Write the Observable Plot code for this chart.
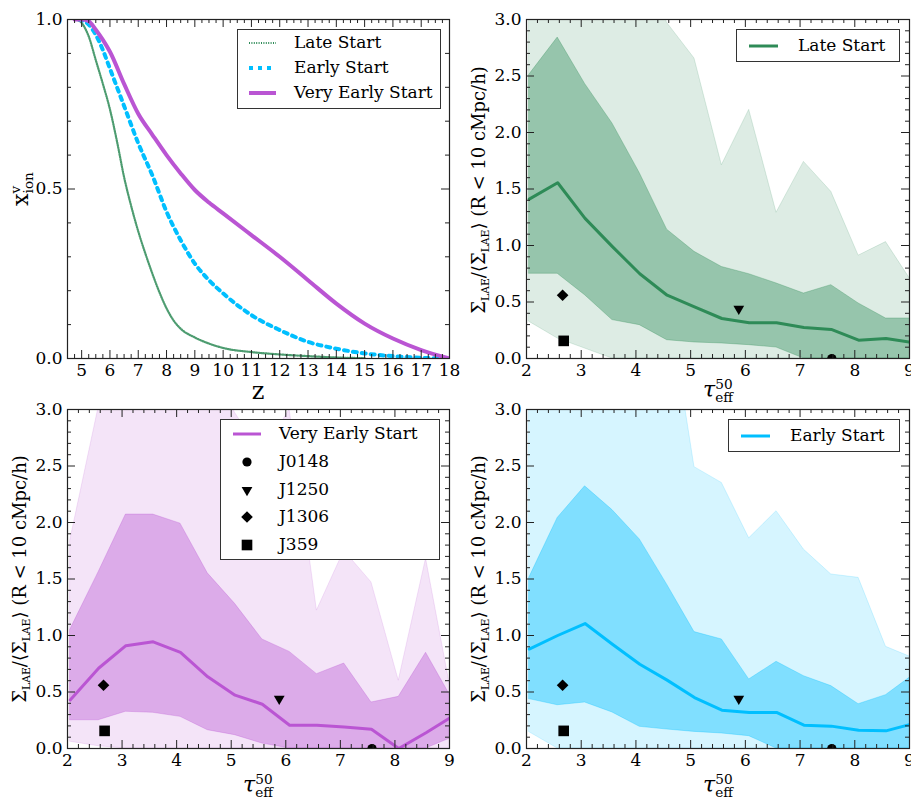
<!DOCTYPE html>
<html>
<head>
<meta charset="utf-8">
<script src="https://cdn.jsdelivr.net/npm/d3@7"></script>
<script src="https://cdn.jsdelivr.net/npm/@observablehq/plot@0.6"></script>
<style>
  html, body { margin: 0; padding: 0; background: white; overflow: hidden; }
  #wrap { position: relative; width: 911px; height: 801px; background: white; overflow: hidden;
          font-family: "DejaVu Serif", serif; color: black; }
  .panel { position: absolute; }
  .panel svg { overflow: visible; }
  .lab { position: absolute; white-space: nowrap; transform: translate(-50%, -50%); z-index: 5; line-height: 1; }
  .rot { transform: translate(-50%, -50%) rotate(-90deg); }
  .stack { display: inline-flex; flex-direction: column; vertical-align: middle; font-size: 0.62em; line-height: 0.95; text-align: left; }
  .legend { position: absolute; background: white; border: 1px solid #333; box-sizing: border-box; z-index: 6; font-size: 17px; }
  .legend .row { position: absolute; left: 0; white-space: nowrap; }
</style>
</head>
<body>
<div id="wrap"></div>
<script>
// ---------------- DATA ----------------
// Top-left: volume-weighted ionized fraction vs redshift
const lateZ  = [4.8, 5.0, 5.25, 5.5, 5.75, 6.0, 6.25, 6.5, 6.75, 7.0, 7.25, 7.5, 7.75, 8.0, 8.25, 8.5, 9.0, 9.5, 10, 11, 12, 13, 14, 15];
const lateX  = [1.0, 0.99, 0.95, 0.88, 0.81, 0.735, 0.64, 0.535, 0.45, 0.375, 0.31, 0.25, 0.195, 0.148, 0.112, 0.088, 0.062, 0.044, 0.031, 0.019, 0.012, 0.007, 0.003, 0.001];
const earlyZ = [4.9, 5.0, 5.25, 5.5, 5.75, 6.0, 6.5, 7.0, 7.5, 8.0, 8.5, 9.0, 9.5, 10, 11, 12, 13, 14, 15, 16, 17, 18];
const earlyX = [1.0, 0.998, 0.985, 0.955, 0.91, 0.855, 0.745, 0.635, 0.54, 0.433, 0.349, 0.28, 0.231, 0.192, 0.128, 0.084, 0.049, 0.029, 0.015, 0.007, 0.002, 0.0];
const veryZ  = [4.75, 5.0, 5.25, 5.5, 5.75, 6.0, 6.5, 7.0, 7.5, 8.0, 8.5, 9.0, 9.5, 10, 11, 12, 13, 14, 15, 16, 17, 18];
const veryX  = [1.0, 1.0, 0.995, 0.97, 0.94, 0.905, 0.81, 0.722, 0.66, 0.60, 0.546, 0.497, 0.46, 0.428, 0.364, 0.30, 0.231, 0.162, 0.103, 0.059, 0.025, 0.0];

// tau_eff^50 bins
const tauBins = [2.05, 2.57, 3.07, 3.57, 4.07, 4.57, 5.07, 5.57, 6.07, 6.57, 7.07, 7.57, 8.07, 8.57, 9.07];

// Late Start
const lateMed   = [1.41, 1.555, 1.24, 0.99, 0.75, 0.56, 0.457, 0.354, 0.316, 0.316, 0.274, 0.257, 0.162, 0.177, 0.14];
const lateInLo  = [0.75, 0.75, 0.56, 0.34, 0.295, 0.162, 0.142, 0.133, 0.118, 0.097, 0.0, 0.0, 0.0, 0.0, 0.0];
const lateInHi  = [2.51, 2.84, 2.43, 2.08, 1.64, 1.14, 0.944, 0.81, 0.746, 0.664, 0.575, 0.649, 0.487, 0.354, 0.354];
const lateOutLo = [0.325, 0.177, 0.088, 0.0, 0.0, 0.0, 0.0, 0.0, 0.0, 0.0, 0.0, 0.0, 0.0, 0.0, 0.0];
const lateOutHi = [3.6, 3.8, 3.8, 3.7, 3.5, 2.97, 2.655, 1.71, 2.2, 1.29, 1.74, 1.475, 0.91, 1.03, 0.66];

// Very Early Start
const veryMed   = [0.43, 0.71, 0.91, 0.944, 0.85, 0.634, 0.472, 0.392, 0.206, 0.206, 0.19, 0.17, 0.0, 0.14, 0.29];
const veryInLo  = [0.25, 0.25, 0.325, 0.316, 0.28, 0.162, 0.118, 0.044, 0.0, 0.0, 0.0, 0.0, 0.0, 0.0, 0.1];
const veryInHi  = [1.05, 1.56, 2.07, 2.07, 1.99, 1.55, 1.28, 0.965, 0.855, 0.658, 0.752, 0.407, 0.457, 0.847, 0.42];
const veryOutLo = [0.06, 0.02, 0.0, 0.0, 0.0, 0.0, 0.0, 0.0, 0.0, 0.0, 0.0, 0.0, 0.0, 0.0, 0.0];
const veryOutHi = [1.84, 3.02, 3.8, 3.8, 3.6, 3.5, 2.97, 2.6, 3.0, 1.22, 1.75, 1.47, 0.6, 1.68, 0.4];

// Early Start
const earlyMed   = [0.88, 1.0, 1.106, 0.923, 0.746, 0.605, 0.451, 0.339, 0.319, 0.319, 0.206, 0.198, 0.162, 0.156, 0.22];
const earlyInLo  = [0.437, 0.383, 0.407, 0.319, 0.192, 0.168, 0.147, 0.133, 0.109, 0.0, 0.0, 0.0, 0.0, 0.0, 0.0];
const earlyInHi  = [1.51, 2.04, 2.32, 2.11, 1.85, 1.45, 1.03, 0.965, 0.611, 0.767, 0.64, 0.552, 0.392, 0.472, 0.65];
const earlyOutLo = [0.145, 0.0, 0.0, 0.0, 0.0, 0.0, 0.0, 0.0, 0.0, 0.0, 0.0, 0.0, 0.0, 0.0, 0.0];
const earlyOutHi = [3.8, 3.9, 4.0, 4.0, 4.0, 4.04, 2.49, 2.35, 1.86, 2.10, 1.76, 1.54, 1.51, 0.9, 0.8];

// Observed quasars
const qsoNames = ["J0148", "J1250", "J1306", "J359"];
const qsoTau   = [7.58, 5.88, 2.66, 2.68];
const qsoSigma = [0.0, 0.44, 0.56, 0.156];

// Tick labels
const zTicks    = [5, 6, 7, 8, 9, 10, 11, 12, 13, 14, 15, 16, 17, 18];
const xionTicks = [0.0, 0.5, 1.0];
const tauTicks  = [2, 3, 4, 5, 6, 7, 8, 9];
const sigTicks  = [0.0, 0.5, 1.0, 1.5, 2.0, 2.5, 3.0];

// ---------------- STYLE ----------------
const GREEN = "#2E8B57", CYAN = "#00BFFF", PURPLE = "#BA55D3";
const LATE_DASH = "1,1.4";
const FONT = {fontFamily: "DejaVu Serif", fontSize: "17px", background: "transparent", overflow: "visible", color: "black"};

// custom symbols
const triDown = {draw(ctx, size) { const y = Math.sqrt(size / (Math.sqrt(3) * 3)); ctx.moveTo(0, y * 2); ctx.lineTo(-Math.sqrt(3) * y, -y); ctx.lineTo(Math.sqrt(3) * y, -y); ctx.closePath(); }};
const diamond = {draw(ctx, size) { const r = Math.sqrt(size) * 0.7; ctx.moveTo(0, -r); ctx.lineTo(r, 0); ctx.lineTo(0, r); ctx.lineTo(-r, 0); ctx.closePath(); }};
const qsoSymbols = ["circle", triDown, diamond, "square"];
const qsoR = [4.6, 4, 4.7, 6];
const qsoSymbolsD3 = [d3.symbolCircle, triDown, diamond, d3.symbolSquare];

function frameTicks(xMaj, xMin, yMaj, yMin, iw, ih) {
  const o = {stroke: "#222", strokeWidth: 1};
  return [
    Plot.tickX(xMaj, {x: d => d, insetTop: ih - 8, ...o}),
    Plot.tickX(xMaj, {x: d => d, insetBottom: ih - 8, ...o}),
    Plot.tickX(xMin, {x: d => d, insetTop: ih - 4, ...o}),
    Plot.tickX(xMin, {x: d => d, insetBottom: ih - 4, ...o}),
    Plot.tickY(yMaj, {y: d => d, insetRight: iw - 8, ...o}),
    Plot.tickY(yMaj, {y: d => d, insetLeft: iw - 8, ...o}),
    Plot.tickY(yMin, {y: d => d, insetRight: iw - 4, ...o}),
    Plot.tickY(yMin, {y: d => d, insetLeft: iw - 4, ...o}),
    Plot.frame({stroke: "#222", strokeWidth: 1.2})
  ];
}

const wrap = document.getElementById("wrap");
function place(el, left, top) {
  const d = document.createElement("div");
  d.className = "panel"; d.style.left = left + "px"; d.style.top = top + "px";
  d.appendChild(el); wrap.appendChild(d);
}

// ---------------- TOP LEFT ----------------
{
  const W = 455, H = 390, mL = 67, mR = 6, mT = 19, mB = 32;
  const zMin = d3.range(18, 73).map(i => i / 4).filter(v => Math.abs(v - Math.round(v)) > 1e-9);
  const yMin = d3.range(0, 11).map(i => i / 10).filter(v => Math.abs(v * 2 - Math.round(v * 2)) > 1e-9);
  const p = Plot.plot({
    width: W, height: H, marginLeft: mL, marginRight: mR, marginTop: mT, marginBottom: mB,
    style: FONT,
    x: {domain: [4.5, 18], ticks: zTicks, tickSize: 0, tickPadding: 5, label: null, tickFormat: d3.format("d")},
    y: {domain: [0, 1], ticks: xionTicks, tickSize: 0, tickPadding: 5, label: null, tickFormat: d3.format(".1f")},
    marks: [
      Plot.lineY(lateX, {x: lateZ, stroke: GREEN, strokeWidth: 2.2, strokeDasharray: LATE_DASH, strokeOpacity: 0.85, curve: "monotone-x", clip: true}),
      Plot.lineY(earlyX, {x: earlyZ, stroke: CYAN, strokeWidth: 4, strokeDasharray: "4,5", curve: "monotone-x", clip: true}),
      Plot.lineY(veryX, {x: veryZ, stroke: PURPLE, strokeWidth: 4, curve: "monotone-x", clip: true}),
      ...frameTicks(zTicks, zMin, xionTicks, yMin, W - mL - mR, H - mT - mB)
    ]
  });
  place(p, 0, 0);
}

// ---------------- TAU PANELS ----------------
function tauPanel(left, top, W, H, mL, mR, mB, med, inLo, inHi, outLo, outHi, color) {
  const mT = 19;
  const xMin = d3.range(10, 46).map(i => i / 5).filter(v => Math.abs(v - Math.round(v)) > 1e-9);
  const yMin = d3.range(0, 31).map(i => i / 10).filter(v => Math.abs(v * 2 - Math.round(v * 2)) > 1e-9);
  const dots = qsoNames.map((n, i) =>
    Plot.dot([qsoTau[i]], {x: d => d, y: [qsoSigma[i]], symbol: qsoSymbols[i], r: qsoR[i], fill: "black", stroke: "none", clip: true}));
  const p = Plot.plot({
    width: W, height: H, marginLeft: mL, marginRight: mR, marginTop: mT, marginBottom: mB,
    style: FONT,
    x: {domain: [2, 9], ticks: tauTicks, tickSize: 0, tickPadding: 5, label: null, tickFormat: d3.format("d")},
    y: {domain: [0, 3], ticks: sigTicks, tickSize: 0, tickPadding: 5, label: null, tickFormat: d3.format(".1f")},
    marks: [
      Plot.areaY(tauBins, {x: tauBins, y1: outLo, y2: outHi, fill: color, fillOpacity: 0.16, stroke: color, strokeOpacity: 0.16, clip: true}),
      Plot.areaY(tauBins, {x: tauBins, y1: inLo, y2: inHi, fill: color, fillOpacity: 0.4, stroke: color, strokeOpacity: 0.3, clip: true}),
      Plot.lineY(med, {x: tauBins, stroke: color, strokeWidth: 3, clip: true}),
      ...dots,
      ...frameTicks(tauTicks, xMin, sigTicks, yMin, W - mL - mR, H - mT - mB)
    ]
  });
  place(p, left, top);
}
tauPanel(455, 0, 456, 390, 71, 2, 32, lateMed, lateInLo, lateInHi, lateOutLo, lateOutHi, GREEN);
tauPanel(0, 390, 455, 411, 67, 6, 53, veryMed, veryInLo, veryInHi, veryOutLo, veryOutHi, PURPLE);
tauPanel(455, 390, 456, 411, 71, 2, 53, earlyMed, earlyInLo, earlyInHi, earlyOutLo, earlyOutHi, CYAN);

// ---------------- AXIS LABELS ----------------
function label(html, cx, cy, size, rotate) {
  const d = document.createElement("div");
  d.className = "lab" + (rotate ? " rot" : "");
  d.style.left = cx + "px"; d.style.top = cy + "px"; d.style.fontSize = size + "px";
  d.innerHTML = html; wrap.appendChild(d);
}
const sigLabel = 'Σ<sub style="font-size:0.6em">LAE</sub>/⟨Σ<sub style="font-size:0.6em">LAE</sub>⟩ (R &lt; 10 cMpc/h)';
const tauLabel = '<i>τ</i><span class="stack"><span>50</span><span>eff</span></span>';
label('x<span class="stack"><span>v</span><span>ion</span></span>', 22, 189, 22, true);
label('z', 258, 391, 24, false);
label(sigLabel, 481, 190, 18, true);
label(sigLabel, 481, 579, 18, true);
label(sigLabel, 22, 579, 18, true);
label(tauLabel, 718, 391, 22, false);
label(tauLabel, 258, 786, 22, false);
label(tauLabel, 718, 786, 22, false);

// ---------------- LEGENDS ----------------
function swatchSVG(item) {
  if (item.type === "line") {
    return `<svg width="30" height="10" style="position:absolute;left:${item.x0}px;top:-5px;overflow:visible">
      <line x1="0" x2="${item.len}" y1="5" y2="5" stroke="${item.color}" stroke-width="${item.width}"
        ${item.dash ? `stroke-dasharray="${item.dash}"` : ""}/></svg>`;
  }
  const path = d3.symbol(item.symbol, Math.PI * item.r * item.r)();
  return `<svg width="20" height="20" style="position:absolute;left:${item.cx - 10}px;top:-10px;overflow:visible">
    <path d="${path}" transform="translate(10,10)" fill="black"/></svg>`;
}
function legend(box, rows, textX) {
  const d = document.createElement("div");
  d.className = "legend";
  Object.assign(d.style, {left: box[0] + "px", top: box[1] + "px", width: box[2] + "px", height: box[3] + "px"});
  rows.forEach(r => {
    const row = document.createElement("div");
    row.className = "row";
    row.style.top = r.cy + "px";
    row.innerHTML = swatchSVG(r) + `<span style="position:absolute;left:${textX}px;top:0;transform:translateY(-52%);line-height:1">${r.text}</span>`;
    d.appendChild(row);
  });
  wrap.appendChild(d);
}
legend([237, 29, 204, 80], [
  {type: "line", text: "Late Start", color: GREEN, width: 2.2, dash: LATE_DASH, x0: 11, len: 27, cy: 13},
  {type: "line", text: "Early Start", color: CYAN, width: 4, dash: "4,5", x0: 11, len: 27, cy: 38},
  {type: "line", text: "Very Early Start", color: PURPLE, width: 4, x0: 11, len: 27, cy: 63}
], 56);
legend([736, 29, 164, 33], [
  {type: "line", text: "Late Start", color: GREEN, width: 3, x0: 12, len: 29, cy: 16}
], 61);
legend([728, 419, 172, 33], [
  {type: "line", text: "Early Start", color: CYAN, width: 3, x0: 12, len: 29, cy: 16}
], 61);
legend([220, 419, 220, 141], [
  {type: "line", text: "Very Early Start", color: PURPLE, width: 3, x0: 12, len: 28, cy: 14},
  ...qsoNames.map((n, i) => ({type: "dot", text: n, symbol: qsoSymbolsD3[i], r: qsoR[i], cx: 26, cy: 42 + i * 27.7}))
], 58);
</script>
</body>
</html>
